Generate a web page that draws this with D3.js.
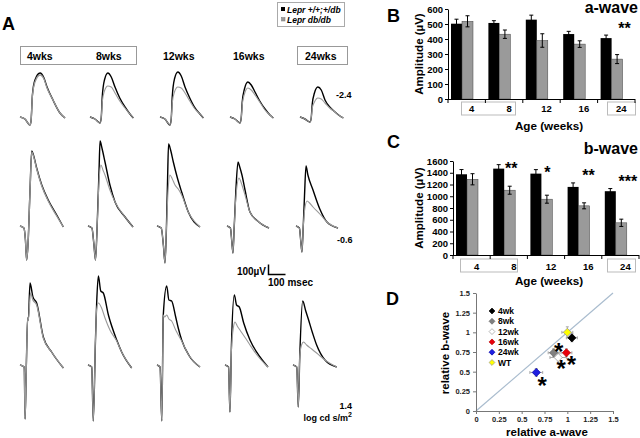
<!DOCTYPE html>
<html><head><meta charset="utf-8">
<script src="https://cdn.jsdelivr.net/npm/d3@7"></script>
<style>
body{margin:0;background:#fff}
svg{display:block}
text{font-family:"Liberation Sans",Arial,Helvetica,sans-serif;font-weight:bold}
</style>
</head><body>
<svg id="c" width="640" height="438"></svg>
<script>
// ---------------- DATA ----------------
const ages = ["4","8","12","16","24"];
const ageHeaders = ["4wks","8wks","12wks","16wks","24wks"];
const intensityLabels = ["-2.4","-0.6","1.4"];

// Panel B: a-wave amplitude (µV)
const aWaveWT = [502, 507, 529, 433, 406];
const aWaveWTErr = [30, 15, 30, 18, 20];
const aWaveDB = [518, 432, 390, 366, 266];
const aWaveDBErr = [37, 28, 45, 22, 30];
const aTicks = [0,100,200,300,400,500,600];
const aStars = ["", "", "", "", "**"];

// Panel C: b-wave amplitude (µV)
const bWaveWT = [1374, 1470, 1385, 1159, 1086];
const bWaveWTErr = [80, 68, 68, 68, 45];
const bWaveDB = [1289, 1103, 950, 837, 548];
const bWaveDBErr = [95, 68, 68, 51, 62];
const bTicks = [0,200,400,600,800,1000,1200,1400,1600];
const bStars = ["", "**", "*", "**", "***"];

// Panel D: relative a-wave vs relative b-wave
const relGroups = ["4wk","8wk","12wk","16wk","24wk","WT"];
const relA    = [1.05, 0.85, 0.90, 0.99, 0.66, 1.00];
const relB    = [0.93, 0.74, 0.68, 0.74, 0.49, 1.00];
const relAErr = [0.06, 0.06, 0.09, 0.06, 0.07, 0.06];
const relBErr = [0.05, 0.05, 0.06, 0.05, 0.05, 0.07];
const relSig  = [false, true, true, true, true, false];
const relTicks = [0,0.25,0.5,0.75,1,1.25,1.5];

// Panel A: ERG traces, [time (ms), amplitude (µV)]
const ergDimWT = [
 [[0,0],[29,-20],[59,-80],[65,-40],[73,220],[88,370],[118,440],[141,390],[159,300],[194,170],[235,40],[265,-10]],
 [[0,0],[29,-20],[59,-60],[66,-10],[72,200],[85,370],[105,440],[125,400],[147,300],[175,190],[206,100],[235,30],[255,-10]],
 [[0,0],[29,-20],[59,-80],[66,-20],[72,200],[85,380],[105,450],[125,410],[147,300],[175,190],[206,90],[235,30],[255,-10]],
 [[0,0],[29,-20],[59,-60],[66,-10],[72,150],[85,280],[105,350],[125,320],[147,250],[175,160],[206,80],[235,20],[255,-10]],
 [[0,0],[29,-20],[59,-50],[66,-10],[72,130],[85,240],[105,300],[125,270],[147,170],[175,100],[206,50],[235,10],[255,-10]]
];
const ergDimDB = [
 [[0,0],[29,-20],[59,-80],[65,-40],[73,210],[88,350],[118,420],[141,380],[159,290],[194,170],[235,40],[265,-10]],
 [[0,0],[29,-20],[59,-60],[66,-10],[72,150],[85,260],[105,310],[125,300],[147,240],[175,160],[206,90],[235,30],[255,-10]],
 [[0,0],[29,-20],[59,-80],[66,-20],[72,140],[85,250],[105,300],[125,290],[147,240],[175,160],[206,80],[235,30],[255,-10]],
 [[0,0],[29,-20],[59,-60],[66,-10],[72,120],[85,230],[105,290],[125,270],[147,220],[175,150],[206,70],[235,20],[255,-10]],
 [[0,0],[29,-20],[59,-50],[66,-10],[72,90],[85,150],[105,190],[125,180],[147,140],[175,90],[206,50],[235,10],[255,-10]]
];
const ergMidWT = [
 [[0,0],[23,-20],[32,-140],[39,-340],[47,-190],[59,360],[69,750],[79,710],[98,580],[128,410],[166,260],[216,110],[255,-10]],
 [[0,0],[23,-20],[35,-190],[44,-340],[53,-40],[65,560],[71,850],[82,780],[100,640],[129,410],[159,240],[218,90],[265,-10]],
 [[0,0],[25,-20],[38,-200],[47,-370],[55,-50],[62,450],[68,820],[80,760],[96,640],[120,480],[145,340],[184,140],[253,-10]],
 [[0,0],[20,-20],[28,-150],[35,-270],[42,-30],[52,350],[65,640],[75,590],[88,510],[106,360],[135,140],[180,50],[247,-20]],
 [[0,0],[20,-20],[28,-150],[35,-260],[42,-30],[50,300],[59,600],[70,510],[100,360],[140,170],[182,40],[247,-20]]
];
const ergMidDB = [
 [[0,0],[23,-20],[32,-140],[39,-340],[47,-190],[59,350],[69,740],[79,700],[98,570],[128,400],[166,250],[216,100],[255,-10]],
 [[0,0],[23,-20],[35,-190],[44,-340],[53,-40],[65,450],[76,610],[88,560],[100,510],[129,360],[159,240],[218,90],[265,-10]],
 [[0,0],[25,-20],[38,-200],[47,-370],[55,-50],[65,350],[76,510],[90,470],[106,410],[125,370],[145,310],[184,140],[253,-10]],
 [[0,0],[20,-20],[28,-150],[35,-270],[42,-30],[52,280],[71,480],[80,450],[88,410],[106,310],[135,140],[180,50],[247,-20]],
 [[0,0],[20,-20],[28,-150],[35,-260],[42,-30],[50,150],[65,250],[80,230],[100,190],[140,120],[182,40],[247,-20]]
];
const ergBrightWT = [
 [[0,0],[25,-20],[30,-540],[38,50],[45,470],[49,450],[59,820],[76,680],[98,620],[137,280],[186,130],[255,-30]],
 [[0,0],[22,-20],[31,-560],[44,250],[51,620],[61,890],[75,740],[90,720],[120,500],[169,250],[198,130],[257,-30]],
 [[0,0],[18,-20],[28,-560],[37,500],[57,790],[70,650],[86,640],[110,480],[125,370],[145,250],[190,90],[253,-20]],
 [[0,0],[21,-20],[29,-470],[38,200],[55,700],[68,600],[84,580],[110,420],[147,250],[206,80],[253,-20]],
 [[0,0],[22,-20],[31,-420],[40,100],[57,640],[75,540],[90,460],[115,320],[139,200],[188,50],[257,-20]]
];
const ergBrightDB = [
 [[0,0],[25,-20],[30,-540],[38,50],[45,470],[49,450],[62,720],[76,650],[98,600],[137,270],[186,130],[255,-30]],
 [[0,0],[22,-20],[31,-560],[44,250],[51,560],[61,620],[80,570],[100,470],[129,350],[169,240],[198,130],[257,-30]],
 [[0,0],[18,-20],[28,-560],[37,500],[45,480],[57,500],[70,460],[86,440],[110,350],[145,240],[190,90],[253,-20]],
 [[0,0],[21,-20],[29,-470],[38,150],[50,380],[59,430],[72,390],[88,350],[120,270],[147,200],[188,100],[253,-20]],
 [[0,0],[22,-20],[31,-420],[40,100],[50,200],[62,230],[80,200],[110,160],[139,120],[188,50],[257,-20]]
];

// ---------------- DRAW ----------------
const svg = d3.select("#c");
function txt(x, y, s, o = {}) {
  const t = svg.append("text").attr("x", x).attr("y", y).text(s)
    .attr("font-size", o.size || 10).attr("text-anchor", o.anchor || "start")
    .attr("fill", o.fill || "#000").attr("font-weight", o.weight || "bold");
  if (o.italic) t.attr("font-style", "italic");
  if (o.rotate) t.attr("transform", `rotate(-90 ${x} ${y})`);
  return t;
}
const GRAY = "#9a9a9a";

// ===== Panel A =====
txt(2, 30, "A", {size: 18});
svg.append("rect").attr("x", 277.5).attr("y", 2.5).attr("width", 67).attr("height", 24)
  .attr("fill", "#fff").attr("stroke", "#aaa");
svg.append("rect").attr("x", 281).attr("y", 7).attr("width", 4).attr("height", 4).attr("fill", "#000");
svg.append("rect").attr("x", 281.5).attr("y", 17.5).attr("width", 3.5).attr("height", 3.5).attr("fill", GRAY).attr("stroke", "#777").attr("stroke-width", 0.5);
txt(287, 12.5, "Lepr +/+;+/db", {size: 8.5, italic: true});
txt(287, 23, "Lepr db/db", {size: 8.5, italic: true});

svg.append("rect").attr("x", 20.5).attr("y", 46.5).attr("width", 116).attr("height", 18).attr("fill", "none").attr("stroke", "#999");
svg.append("rect").attr("x", 297.5).attr("y", 46.5).attr("width", 50).attr("height", 18).attr("fill", "none").attr("stroke", "#999");
const headerX = [27, 96, 163, 233, 305];
ageHeaders.forEach((h, i) => txt(headerX[i], 60, h, {size: 10.5}));

const tx = d3.scaleLinear().domain([0, 100]).range([0, 17]);   // ms -> px
const vy = d3.scaleLinear().domain([0, 100]).range([0, -10]);  // µV -> px
const traceLine = d3.line().x(d => tx(d[0])).y(d => vy(d[1])).curve(d3.curveMonotoneX);
const traceRows = [
  {wt: ergDimWT, db: ergDimDB, y0: 117, x0: [20, 90, 160, 230, 300]},
  {wt: ergMidWT, db: ergMidDB, y0: 226, x0: [20, 88, 157, 227, 296]},
  {wt: ergBrightWT, db: ergBrightDB, y0: 365, x0: [20, 88, 157, 225, 293]}
];
traceRows.forEach(r => {
  r.wt.forEach((tr, i) => {
    const g = svg.append("g").attr("transform", `translate(${r.x0[i]},${r.y0})`);
    g.append("path").attr("d", traceLine(tr)).attr("fill", "none")
      .attr("stroke", "#000").attr("stroke-width", 1.4).attr("stroke-linejoin", "round");
    g.append("path").attr("d", traceLine(r.db[i])).attr("fill", "none")
      .attr("stroke", GRAY).attr("stroke-width", i === 0 ? 1.3 : 1.1).attr("stroke-linejoin", "round");
  });
});
txt(336, 98, intensityLabels[0], {size: 9});
txt(337, 243, intensityLabels[1], {size: 9});
txt(352, 409, intensityLabels[2], {size: 9, anchor: "end"});
const lt = txt(352, 421, "log cd s/m", {size: 9, anchor: "end"});
lt.append("tspan").attr("dy", -4).attr("font-size", 7).text("2");

const sb = svg.append("g").attr("transform", "translate(268.5,274.5)");
sb.append("path").attr("d", `M0,${vy(100)}V0H${tx(100)}`).attr("fill", "none").attr("stroke", "#000").attr("stroke-width", 1.5);
txt(266, 275, "100µV", {size: 10, anchor: "end"});
txt(268, 286, "100 msec", {size: 10});

// ===== Bar panels =====
function barPanel(o) {
  const band = d3.scaleBand().domain(ages).range(o.xr);
  const y = o.y;
  const g = svg.append("g");
  const y0 = y(0);
  g.append("rect").attr("x", o.box1[0]).attr("y", y0 + o.boxDy).attr("width", o.box1[1] - o.box1[0]).attr("height", 13)
    .attr("fill", "none").attr("stroke", "#bbb");
  g.append("rect").attr("x", o.box2[0]).attr("y", y0 + o.boxDy).attr("width", o.box2[1] - o.box2[0]).attr("height", 13)
    .attr("fill", "none").attr("stroke", "#bbb");
  ages.forEach((a, i) => {
    const bx = band(a);
    g.append("rect").attr("x", bx + 3).attr("width", 11).attr("y", y(o.wt[i])).attr("height", y0 - y(o.wt[i])).attr("fill", "#000");
    g.append("rect").attr("x", bx + 14).attr("width", 11).attr("y", y(o.db[i])).attr("height", y0 - y(o.db[i]))
      .attr("fill", GRAY).attr("stroke", "#444").attr("stroke-width", 0.5);
    [[bx + 8.5, o.wt[i], o.wtE[i]], [bx + 19.5, o.db[i], o.dbE[i]]].forEach(([cx, v, e]) => {
      g.append("path").attr("d", `M${cx},${y(v - e)}V${y(v + e)}M${cx - 2},${y(v + e)}H${cx + 2}M${cx - 2},${y(v - e)}H${cx + 2}`)
        .attr("stroke", "#000").attr("stroke-width", 1).attr("fill", "none");
    });
    if (o.stars[i]) {
      // centre of the star glyph sits ~0.57em above the baseline
      txt(bx + o.starDx[i], y(o.wt[i] + o.wtE[i]) + o.starDy[i] + 9, o.stars[i], {size: 16, anchor: "middle"});
    }
    txt(bx + band.bandwidth() / 2 + 5, y0 + o.labDy, a, {size: 9.5, anchor: "middle"});
  });
  const ax = g.append("g").attr("transform", `translate(${o.xr[0]},0)`)
    .call(d3.axisLeft(y).tickValues(o.ticks).tickFormat(d3.format("d")).tickSize(3).tickSizeOuter(0).tickPadding(2));
  ax.selectAll("text").attr("font-size", 9.5).attr("font-weight", "bold").attr("fill", "#000")
    .attr("font-family", '"Liberation Sans",Arial,sans-serif');
  ax.selectAll("line,path").attr("stroke", "#000");
  g.append("line").attr("x1", o.xr[0]).attr("x2", o.xr[1]).attr("y1", y0 + 0.5).attr("y2", y0 + 0.5).attr("stroke", "#000");
  ages.map(a => band(a)).concat([o.xr[1]]).forEach(bx => {
    g.append("line").attr("x1", bx).attr("x2", bx).attr("y1", y0).attr("y2", y0 + 4).attr("stroke", "#000");
  });
  txt(419, (y(o.ticks[o.ticks.length - 1]) + y0) / 2, "Amplitude (µV)", {size: 11.5, anchor: "middle", rotate: true})
    .attr("dy", 4);
  txt(549, o.ageY, "Age (weeks)", {size: 11.7, anchor: "middle"});
}

txt(387, 22, "B", {size: 18});
txt(638, 13, "a-wave", {size: 16, anchor: "end"});
barPanel({
  xr: [448, 635], y: d3.scaleLinear().domain([0, 600]).range([99, 9]),
  wt: aWaveWT, wtE: aWaveWTErr, db: aWaveDB, dbE: aWaveDBErr, ticks: aTicks,
  stars: aStars, starDx: [0, 0, 0, 0, 27], starDy: [0, 0, 0, 0, -10],
  box1: [461.5, 515.5], box2: [607.5, 635.5], boxDy: 3, labDy: 12.5, ageY: 130
});

txt(387, 148, "C", {size: 18});
txt(638, 154, "b-wave", {size: 16, anchor: "end"});
barPanel({
  xr: [453, 639], y: d3.scaleLinear().domain([0, 1600]).range([255, 161]),
  wt: bWaveWT, wtE: bWaveWTErr, db: bWaveDB, dbE: bWaveDBErr, ticks: bTicks,
  stars: bStars, starDx: [0, 21, 20, 24, 26], starDy: [0, 0, -1, -11, -11],
  box1: [460.5, 517.5], box2: [607.5, 635.5], boxDy: 4, labDy: 14.5, ageY: 285
});

// ===== Panel D =====
txt(386, 305, "D", {size: 18});
const dX = d3.scaleLinear().domain([0, 1.5]).range([476, 613]);
const dY = d3.scaleLinear().domain([0, 1.5]).range([411, 293]);
svg.append("line").attr("x1", dX(0)).attr("y1", dY(0)).attr("x2", dX(1.5)).attr("y2", dY(1.5))
  .attr("stroke", "#a9bcce").attr("stroke-width", 1.2);
const axY = svg.append("g").attr("transform", `translate(${dX(0)},0)`)
  .call(d3.axisLeft(dY).tickValues(relTicks).tickFormat(d3.format("~g")).tickSize(3).tickSizeOuter(0).tickPadding(3));
const axX = svg.append("g").attr("transform", `translate(0,${dY(0)})`)
  .call(d3.axisBottom(dX).tickValues(relTicks).tickFormat(d3.format("~g")).tickSize(3).tickSizeOuter(0).tickPadding(3));
[axY, axX].forEach(a => {
  a.selectAll("text").attr("font-size", 7.5).attr("font-weight", "normal").attr("fill", "#222")
    .attr("font-family", '"Liberation Sans",Arial,sans-serif');
  a.selectAll("line,path").attr("stroke", "#777");
});
txt(445, 353, "relative b-wave", {size: 11.5, anchor: "middle", rotate: true}).attr("dy", 4);
txt(547, 435.5, "relative a-wave", {size: 11.5, anchor: "middle"});

const relColors = ["#000000", "#808080", "#ffffff", "#e8000b", "#1f1fe0", "#ffff00"];
const relStroke = ["#000", "#666", "#999", "#b00", "#00a", "#999"];
const diamond = d3.symbol().type(d3.symbolDiamond2).size(42);
relGroups.forEach((gname, i) => {
  const ly = 311 + i * 10.3;
  svg.append("path").attr("d", d3.symbol().type(d3.symbolDiamond2).size(22)()).attr("transform", `translate(492,${ly})`)
    .attr("fill", relColors[i]).attr("stroke", relStroke[i]).attr("stroke-width", 0.7);
  txt(498, ly + 3, gname, {size: 8.5});
});
relGroups.forEach((gname, i) => {
  const cx = dX(relA[i]), cy = dY(relB[i]);
  svg.append("path").attr("d",
    `M${dX(relA[i] - relAErr[i])},${cy}H${dX(relA[i] + relAErr[i])}M${cx},${dY(relB[i] - relBErr[i])}V${dY(relB[i] + relBErr[i])}` +
    `M${dX(relA[i] - relAErr[i])},${cy - 1.5}v3M${dX(relA[i] + relAErr[i])},${cy - 1.5}v3` +
    `M${cx - 1.5},${dY(relB[i] - relBErr[i])}h3M${cx - 1.5},${dY(relB[i] + relBErr[i])}h3`)
    .attr("stroke", "#aaa").attr("stroke-width", 1).attr("fill", "none");
});
const drawOrder = [0, 2, 1, 3, 4, 5];
drawOrder.forEach(i => {
  svg.append("path").attr("d", diamond()).attr("transform", `translate(${dX(relA[i])},${dY(relB[i])})`)
    .attr("fill", relColors[i]).attr("stroke", relStroke[i]).attr("stroke-width", 0.8);
});
const starOff = [[0, 0], [5, -7], [3, 5], [5, 6], [6, 8]];
relGroups.forEach((gname, i) => {
  if (!relSig[i]) return;
  const [dx, dy] = starOff[i];
  txt(dX(relA[i]) + dx, dY(relB[i]) + dy + 14, "*", {size: 24, anchor: "middle"});
});
</script>
</body></html>
